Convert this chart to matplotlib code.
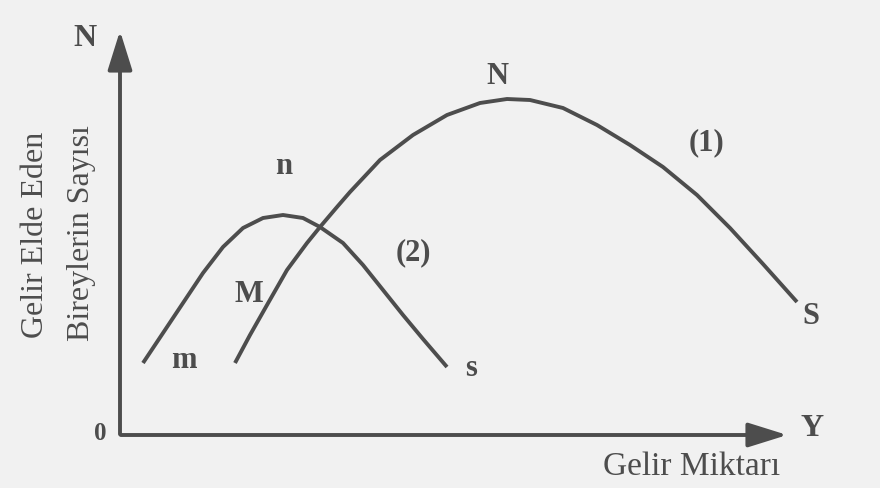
import matplotlib.pyplot as plt

# curve (1): M -> N -> S (origin at the axis corner)
curve1_x = [115, 130, 147, 167, 187, 200, 217, 230, 260, 293, 327, 360, 387, 410, 443, 477, 510, 543, 577, 610, 643, 677]
curve1_y = [72, 100, 130, 165, 192, 208, 228, 243, 275, 300, 320, 332, 336, 335, 327, 310, 290, 268, 240, 207, 171, 133]

# curve (2): m -> n -> s
curve2_x = [23, 43, 63, 83, 103, 123, 143, 163, 183, 200, 223, 243, 263, 283, 303, 327]
curve2_y = [72, 102, 132, 162, 188, 207, 217, 220, 217, 208, 192, 170, 145, 120, 96, 68]

# point labels: text, x, y
point_labels = [
    ("N", 377, 359), ("(1)", 586, 292), ("S", 691, 119),
    ("n", 164, 269), ("(2)", 293, 182), ("M", 129, 140),
    ("m", 64, 75), ("s", 351, 66),
]

ink = "#4d4d4d"
plt.rcParams['font.family'] = ['Liberation Serif', 'DejaVu Serif']

fig = plt.figure(figsize=(8.8, 4.88), dpi=100, facecolor="#f1f1f1")
ax = fig.add_axes([0, 0, 1, 1])
ax.set_facecolor("#f1f1f1")
ax.set_xlim(-120, 760)
ax.set_ylim(-53, 435)
ax.axis("off")

# axes with arrow heads
head = "-|>,head_length=2.4,head_width=0.75"
ax.annotate("", xy=(0, 407), xytext=(0, -2),
            arrowprops=dict(arrowstyle=head, color=ink, lw=2.8))
ax.annotate("", xy=(670, 0), xytext=(-2, 0),
            arrowprops=dict(arrowstyle=head, color=ink, lw=2.8))

ax.plot(curve1_x, curve1_y, color=ink, lw=2.8, solid_capstyle="butt", solid_joinstyle="round")
ax.plot(curve2_x, curve2_y, color=ink, lw=2.8, solid_capstyle="butt", solid_joinstyle="round")

for txt, x, y in point_labels:
    ax.text(x, y, txt, fontsize=22, color=ink, ha="center", va="center", fontweight="bold")

ax.text(-35, 396, "N", fontsize=23, color=ink, ha="center", va="center", fontweight="bold")
ax.text(-20, 2, "0", fontsize=18, color=ink, ha="center", va="center", fontweight="bold")
ax.text(692, 7, "Y", fontsize=23, color=ink, ha="center", va="center", fontweight="bold")
ax.text(572, -32, "Gelir Miktarı", fontsize=24, color=ink, ha="center", va="center")
ax.text(-84, 200, "Gelir Elde Eden", fontsize=23, color=ink, ha="center", va="center", rotation=90)
ax.text(-38, 202, "Bireylerin Sayısı", fontsize=23, color=ink, ha="center", va="center", rotation=90)

fig.savefig("out.png", dpi=100, facecolor=fig.get_facecolor())
